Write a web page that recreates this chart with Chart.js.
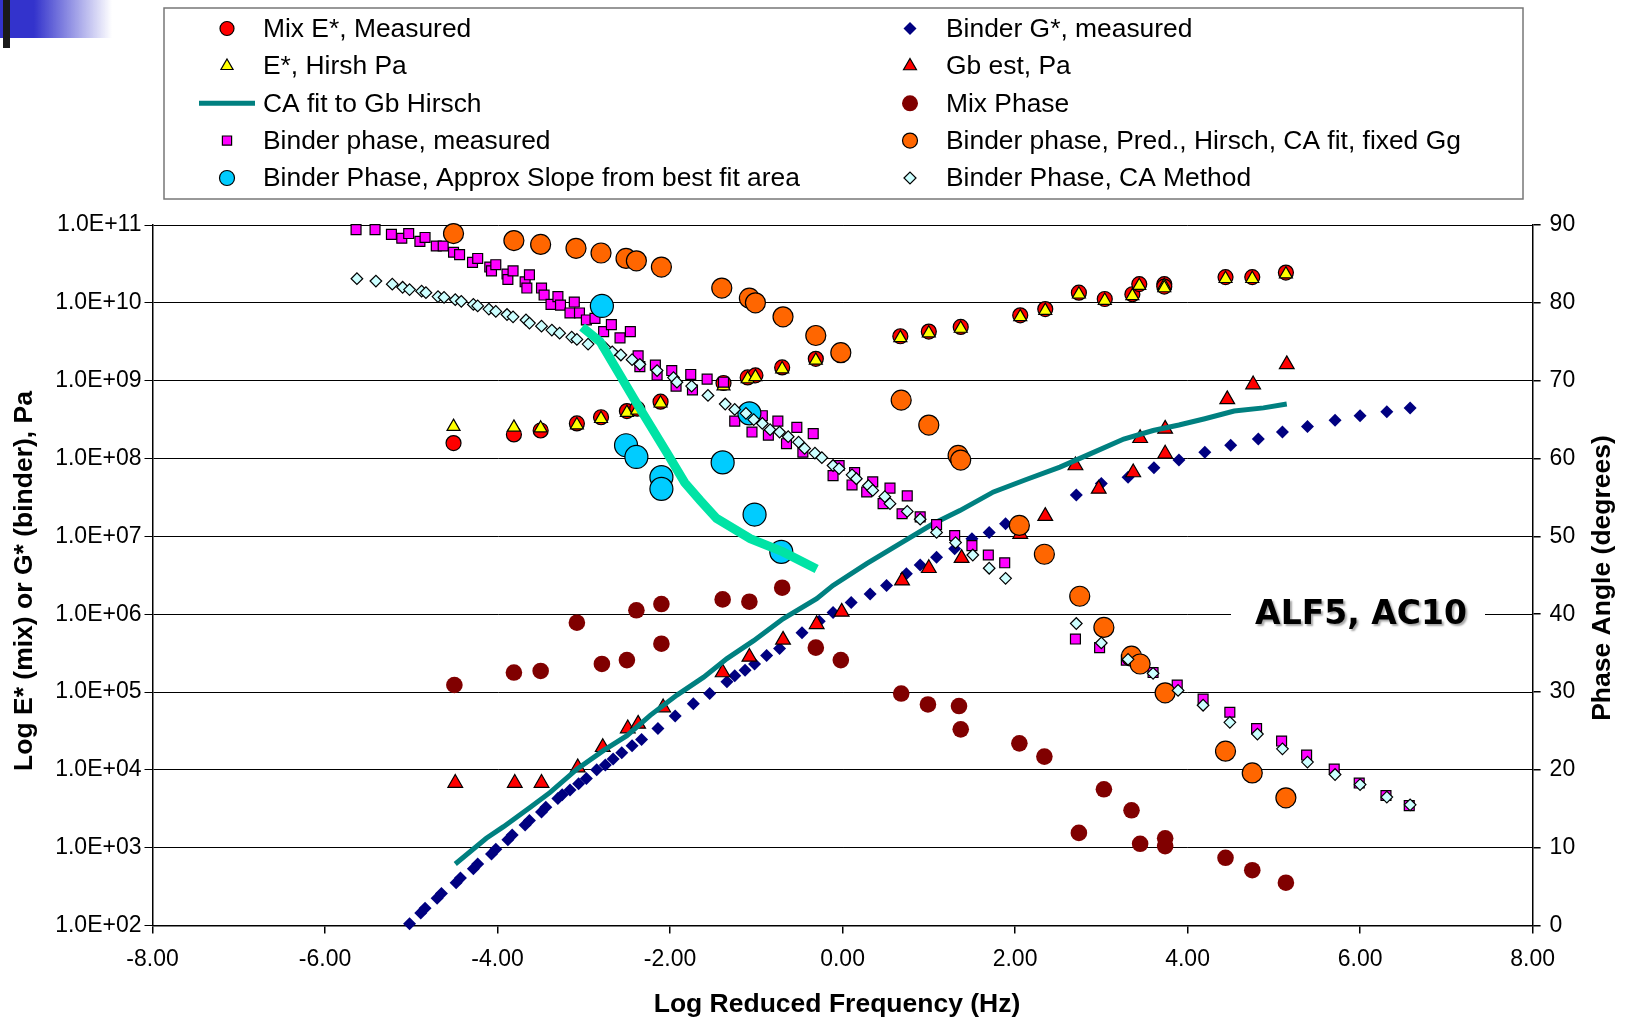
<!DOCTYPE html>
<html>
<head>
<meta charset="utf-8">
<title>ALF5, AC10</title>
<script src="https://cdn.jsdelivr.net/npm/chart.js@4.4.1/dist/chart.umd.min.js"></script>
<style>
  html, body { margin: 0; padding: 0; background: #fff; }
  #wrap { position: relative; width: 1627px; height: 1020px; }
  #chart { position: absolute; left: 0; top: 0; }
  .corner { position: absolute; left: 0; top: 0; width: 112px; height: 38px;
    background: linear-gradient(to right, #3333cc 0, #3333cc 34px, rgba(51, 51, 204, 0) 112px); }
  .bar { position: absolute; left: 3px; top: 0; width: 7px; height: 48px; background: #1a1a1a; }
</style>
</head>
<body>
<div id="wrap">
  <canvas id="chart" width="1627" height="1020"></canvas>
  <div class="corner"></div>
  <div class="bar"></div>
</div>
<script>
// ---- values ----
// x = log reduced frequency (Hz); moduli in Pa (left log axis), phases in degrees (right axis)
const decadeTicks = [1e2, 1e3, 1e4, 1e5, 1e6, 1e7, 1e8, 1e9, 1e10, 1e11]

const mixEX = [-4.51, -3.81, -3.50, -3.08, -2.80, -2.50, -2.38, -2.11, -1.38, -1.10, -1.01, -0.70, -0.31, 0.67, 1.00, 1.37, 2.06, 2.35, 2.74, 3.04, 3.36, 3.44, 3.73, 3.73, 4.44, 4.75, 5.14]
const mixEPa = [1.58e8, 2.04e8, 2.29e8, 2.82e8, 3.39e8, 4.07e8, 4.37e8, 5.37e8, 9.33e8, 1.10e9, 1.17e9, 1.48e9, 1.91e9, 3.72e9, 4.27e9, 4.90e9, 6.92e9, 8.32e9, 1.35e10, 1.12e10, 1.29e10, 1.74e10, 1.74e10, 1.62e10, 2.14e10, 2.14e10, 2.45e10]
const hirschEPa = [2.57e8, 2.51e8, 2.45e8, 2.69e8, 3.24e8, 3.89e8, 4.17e8, 5.13e8, 8.51e8, 1.05e9, 1.12e9, 1.41e9, 1.82e9, 3.55e9, 4.07e9, 4.68e9, 6.61e9, 7.94e9, 1.29e10, 1.07e10, 1.23e10, 1.66e10, 1.66e10, 1.55e10, 2.04e10, 2.04e10, 2.34e10]

const gbEstX = [-4.49, -3.80, -3.49, -3.07, -2.78, -2.49, -2.37, -2.08, -1.39, -1.08, -0.69, -0.30, -0.01, 0.69, 1.00, 1.38, 2.06, 2.35, 2.70, 2.97, 3.37, 3.45, 3.74, 3.74, 4.46, 4.76, 5.15]
const gbEstPa = [6.76e3, 6.76e3, 6.76e3, 1.07e4, 1.95e4, 3.39e4, 3.89e4, 6.31e4, 1.78e5, 2.82e5, 4.68e5, 7.41e5, 1.07e6, 2.69e6, 3.89e6, 5.25e6, 1.07e7, 1.82e7, 8.13e7, 4.07e7, 6.61e7, 1.82e8, 1.15e8, 2.40e8, 5.75e8, 8.91e8, 1.62e9]

const binderGX = [-5.02, -4.89, -4.84, -4.70, -4.65, -4.48, -4.43, -4.28, -4.23, -4.07, -4.02, -3.88, -3.83, -3.68, -3.63, -3.49, -3.44, -3.30, -3.25, -3.16, -3.06, -2.97, -2.85, -2.75, -2.66, -2.56, -2.44, -2.33, -2.14, -1.94, -1.73, -1.54, -1.34, -1.25, -1.13, -1.02, -0.88, -0.73, -0.47, -0.27, -0.11, 0.10, 0.32, 0.51, 0.74, 0.90, 1.09, 1.30, 1.50, 1.70, 1.89, 2.71, 3.00, 3.31, 3.61, 3.90, 4.20, 4.50, 4.82, 5.10, 5.39, 5.71, 6.00, 6.31, 6.58]
const binderGPa = [105, 145, 166, 224, 257, 355, 407, 537, 617, 832, 955, 1.26e3, 1.45e3, 1.95e3, 2.24e3, 2.88e3, 3.31e3, 4.27e3, 4.79e3, 5.50e3, 6.61e3, 7.76e3, 1.00e4, 1.15e4, 1.38e4, 1.66e4, 2.04e4, 2.45e4, 3.39e4, 4.90e4, 7.08e4, 9.55e4, 1.35e5, 1.62e5, 1.91e5, 2.29e5, 2.95e5, 3.63e5, 5.75e5, 8.13e5, 1.05e6, 1.41e6, 1.82e6, 2.34e6, 3.31e6, 4.27e6, 5.37e6, 6.92e6, 9.33e6, 1.12e7, 1.45e7, 3.39e7, 4.79e7, 5.75e7, 7.59e7, 9.55e7, 1.20e8, 1.48e8, 1.78e8, 2.19e8, 2.57e8, 3.09e8, 3.55e8, 3.98e8, 4.47e8]

const caFitX = [-4.49, -4.13, -3.93, -3.62, -3.39, -3.08, -2.77, -2.50, -2.23, -1.92, -1.61, -1.34, -1.03, -0.69, -0.30, -0.11, 0.28, 0.67, 1.05, 1.36, 1.75, 2.13, 2.52, 2.91, 3.26, 3.60, 3.90, 4.20, 4.54, 4.88, 5.15]
const caFitPa = [6.17e2, 1.32e3, 1.86e3, 3.31e3, 5.13e3, 1.02e4, 1.78e4, 2.75e4, 5.01e4, 9.12e4, 1.55e5, 2.69e5, 4.57e5, 8.71e5, 1.58e6, 2.34e6, 4.47e6, 8.13e6, 1.45e7, 2.14e7, 3.72e7, 5.37e7, 7.76e7, 1.20e8, 1.78e8, 2.29e8, 2.69e8, 3.24e8, 4.07e8, 4.47e8, 5.01e8]

const mixPhaseX = [-4.50, -3.81, -3.50, -3.08, -2.79, -2.50, -2.39, -2.10, -2.10, -1.39, -1.08, -0.70, -0.31, -0.02, 0.68, 0.99, 1.35, 1.37, 2.05, 2.34, 2.74, 3.03, 3.35, 3.45, 3.74, 3.74, 4.44, 4.75, 5.14]
const mixPhaseDeg = [30.9, 32.5, 32.7, 38.9, 33.6, 34.1, 40.5, 41.3, 36.2, 41.9, 41.6, 43.4, 35.7, 34.1, 29.8, 28.4, 28.2, 25.2, 23.4, 21.7, 11.9, 17.5, 14.8, 10.5, 11.2, 10.2, 8.7, 7.1, 5.5]

const binderPhaseX = [-5.64, -5.42, -5.23, -5.11, -5.03, -4.90, -4.84, -4.71, -4.63, -4.51, -4.44, -4.29, -4.23, -4.09, -4.07, -4.02, -3.89, -3.88, -3.82, -3.68, -3.66, -3.63, -3.49, -3.46, -3.38, -3.30, -3.27, -3.16, -3.11, -3.05, -2.97, -2.87, -2.77, -2.68, -2.58, -2.46, -2.37, -2.35, -2.17, -2.15, -1.98, -1.93, -1.76, -1.74, -1.57, -1.38, -1.25, -1.05, -0.93, -0.86, -0.75, -0.65, -0.53, -0.46, -0.34, -0.11, -0.04, 0.11, 0.14, 0.28, 0.35, 0.47, 0.55, 0.69, 0.75, 0.90, 1.09, 1.30, 1.50, 1.69, 1.88, 2.70, 2.98, 3.29, 3.60, 3.88, 4.18, 4.49, 4.80, 5.09, 5.38, 5.70, 5.99, 6.30, 6.57]
const binderPhaseDeg = [89.4, 89.4, 88.8, 88.3, 88.9, 87.9, 88.4, 87.3, 87.3, 86.5, 86.2, 85.2, 85.7, 84.6, 84.1, 84.9, 83.7, 83.0, 84.1, 82.7, 81.9, 83.6, 81.9, 81.0, 79.8, 80.8, 79.7, 78.7, 80.1, 78.7, 77.8, 78.0, 76.3, 77.2, 75.5, 76.3, 73.2, 71.8, 72.0, 70.7, 71.3, 69.3, 70.8, 68.8, 70.2, 69.8, 64.8, 63.4, 65.5, 63.0, 64.8, 61.9, 64.0, 60.8, 63.2, 57.8, 59.1, 56.6, 58.2, 55.7, 57.0, 54.2, 56.2, 52.9, 55.2, 52.5, 51.5, 50.1, 48.8, 47.6, 46.6, 36.8, 35.7, 34.1, 32.5, 30.9, 29.1, 27.4, 25.3, 23.7, 21.9, 20.1, 18.3, 16.7, 15.4]

const predPhaseX = [-4.51, -3.81, -3.50, -3.09, -2.80, -2.51, -2.39, -2.10, -1.40, -1.08, -1.01, -0.69, -0.31, -0.02, 0.68, 1.00, 1.34, 1.37, 2.05, 2.34, 2.75, 3.03, 3.35, 3.45, 3.74, 4.44, 4.75, 5.14]
const predPhaseDeg = [88.9, 88.0, 87.5, 87.0, 86.4, 85.7, 85.4, 84.6, 81.9, 80.6, 80.0, 78.2, 75.8, 73.6, 67.5, 64.3, 60.4, 59.8, 51.4, 47.7, 42.3, 38.3, 34.6, 33.6, 29.9, 22.4, 19.6, 16.4]

const slopePhaseX = [-2.79, -2.51, -2.39, -2.10, -2.10, -1.39, -1.08, -1.02, -0.71]
const slopePhaseDeg = [79.6, 61.7, 60.2, 57.6, 56.1, 59.5, 65.8, 52.8, 48.0]

const caPhaseX = [-5.63, -5.41, -5.22, -5.10, -5.02, -4.88, -4.83, -4.69, -4.62, -4.49, -4.42, -4.28, -4.23, -4.10, -4.02, -3.89, -3.82, -3.67, -3.63, -3.49, -3.37, -3.28, -3.14, -3.08, -2.95, -2.75, -2.67, -2.57, -2.44, -2.35, -2.15, -1.96, -1.92, -1.75, -1.56, -1.36, -1.25, -1.12, -1.03, -0.93, -0.84, -0.73, -0.63, -0.51, -0.44, -0.32, -0.24, -0.11, -0.04, 0.11, 0.16, 0.30, 0.35, 0.49, 0.55, 0.75, 0.90, 1.09, 1.31, 1.51, 1.70, 1.89, 2.71, 3.00, 3.31, 3.60, 3.89, 4.18, 4.49, 4.81, 5.10, 5.39, 5.71, 6.00, 6.31, 6.58]
const caPhaseDeg = [83.1, 82.8, 82.4, 82.0, 81.7, 81.5, 81.3, 80.8, 80.7, 80.4, 80.2, 79.8, 79.6, 79.2, 78.9, 78.5, 78.2, 77.8, 77.4, 77.0, 76.5, 76.1, 75.6, 75.3, 74.7, 74.2, 73.7, 73.3, 72.7, 72.1, 71.3, 70.4, 69.8, 69.3, 68.1, 67.0, 66.3, 65.8, 65.0, 64.5, 63.7, 63.4, 62.8, 62.1, 61.3, 60.7, 60.1, 59.1, 58.7, 57.9, 57.4, 56.5, 55.9, 55.1, 54.2, 53.2, 52.2, 50.5, 49.2, 47.6, 45.9, 44.6, 38.8, 36.3, 34.2, 32.4, 30.2, 28.3, 26.1, 24.6, 22.7, 21.0, 19.4, 18.1, 16.5, 15.5]

// unlabelled phase trend line through the slope-method points
const slopeLineX = [-3.02, -2.81, -2.42, -2.04, -1.83, -1.65, -1.46, -1.07, -0.69, -0.30]
const slopeLineDeg = [76.9, 75.0, 67.7, 60.8, 56.9, 54.6, 52.3, 49.7, 48.0, 45.8]

// legend layout, column by column as in the reference
const legendCol1 = ['Mix E*, Measured', 'E*, Hirsh Pa', 'CA fit to Gb Hirsch', 'Binder phase, measured', 'Binder Phase, Approx Slope from best fit area']
const legendCol2 = ['Binder G*, measured', 'Gb est, Pa', 'Mix Phase', 'Binder phase, Pred., Hirsch, CA fit, fixed Gg', 'Binder Phase, CA Method']

// ---- chart ----
const FONT = '"Liberation Sans", Arial, Helvetica, sans-serif'
Chart.defaults.font.family = FONT
Chart.defaults.color = '#000'

const pts = (xs, ys) => xs.map((x, i) => ({ x, y: ys[i] }))
const sci = (v) => '1.0E+' + String(Math.round(Math.log10(v))).padStart(2, '0')

function marker(label, data, axis, style, radius, fill, stroke, order, legendRadius) {
  return {
    label, data, yAxisID: axis, order, clip: false,
    pointStyle: style, pointRadius: radius, pointHoverRadius: radius,
    pointBackgroundColor: fill, pointBorderColor: stroke || fill,
    pointBorderWidth: stroke ? 1.2 : 0, legendRadius,
  }
}
function curve(label, data, axis, color, width, order) {
  return {
    label, data, yAxisID: axis, order, clip: false, showLine: true,
    borderColor: color, borderWidth: width, pointRadius: 0, pointHoverRadius: 0,
  }
}

const datasets = [
  marker('Mix E*, Measured', pts(mixEX, mixEPa), 'y', 'circle', 7.5, '#ff0000', '#000', 11, 7),
  marker('Binder G*, measured', pts(binderGX, binderGPa), 'y', 'rectRot', 6.5, '#000080', null, 10, 6.5),
  marker('E*, Hirsh Pa', pts(mixEX, hirschEPa), 'y', 'triangle', 7.5, '#ffff00', '#000', 9, 7),
  marker('Gb est, Pa', pts(gbEstX, gbEstPa), 'y', 'triangle', 8.5, '#ff0000', '#000', 8, 7.5),
  curve('CA fit to Gb Hirsch', pts(caFitX, caFitPa), 'y', '#008080', 5, 7),
  marker('Mix Phase', pts(mixPhaseX, mixPhaseDeg), 'y2', 'circle', 8.3, '#800000', null, 6, 8),
  marker('Binder phase, measured', pts(binderPhaseX, binderPhaseDeg), 'y2', 'rect', 7, '#ff00ff', '#000', 5, 6.5),
  marker('Binder phase, Pred., Hirsch, CA fit, fixed Gg', pts(predPhaseX, predPhaseDeg), 'y2', 'circle', 10, '#ff6600', '#000', 4, 7.5),
  marker('Binder Phase, Approx Slope from best fit area', pts(slopePhaseX, slopePhaseDeg), 'y2', 'circle', 11.5, '#00ccff', '#000', 3, 7.5),
  marker('Binder Phase, CA Method', pts(caPhaseX, caPhaseDeg), 'y2', 'rectRot', 5.8, '#ccffff', '#000', 2, 6),
  curve('slope trend', pts(slopeLineX, slopeLineDeg), 'y2', '#00e3a5', 9, 1),
]

function rotatedText(c, text, x, y, font) {
  c.save()
  c.translate(x, y)
  c.rotate(-Math.PI / 2)
  c.font = font
  c.fillStyle = '#000'
  c.textAlign = 'center'
  c.textBaseline = 'middle'
  c.fillText(text, 0, 0)
  c.restore()
}

// legend box, axis titles and the sample label are drawn on top
const decor = {
  id: 'decor',
  afterDraw(chart) {
    const c = chart.ctx
    const byLabel = (l) => chart.data.datasets.find((d) => d.label === l)

    // legend
    c.save()
    c.fillStyle = '#fff'
    c.fillRect(164, 8, 1359, 191)
    c.strokeStyle = '#777'
    c.lineWidth = 1.5
    c.strokeRect(164, 8, 1359, 191)
    c.font = '26.4px ' + FONT
    c.textBaseline = 'middle'
    const rowY = [28.5, 66, 103.3, 140.6, 178]
    ;[[legendCol1, 227], [legendCol2, 910]].forEach(([labels, mx]) => {
      labels.forEach((label, i) => {
        const ds = byLabel(label)
        const y = rowY[i]
        if (ds.showLine) {
          c.strokeStyle = ds.borderColor
          c.lineWidth = ds.borderWidth
          c.beginPath(); c.moveTo(mx - 28, y); c.lineTo(mx + 28, y); c.stroke()
        } else {
          c.fillStyle = ds.pointBackgroundColor
          c.strokeStyle = ds.pointBorderColor
          c.lineWidth = ds.pointBorderWidth
          Chart.helpers.drawPoint(c, { pointStyle: ds.pointStyle, radius: ds.legendRadius, rotation: 0, borderWidth: ds.pointBorderWidth }, mx, y)
        }
        c.fillStyle = '#000'
        c.textAlign = 'left'
        c.fillText(label, mx + 36, y + 1)
      })
    })
    c.restore()

    // axis titles; both vertical ones read bottom-to-top
    const titleFont = 'bold 26.5px ' + FONT
    rotatedText(c, 'Log E* (mix) or G* (binder), Pa', 25, 581, titleFont)
    rotatedText(c, 'Phase Angle (degrees)', 1603, 578, titleFont)
    c.save()
    c.font = titleFont
    c.fillStyle = '#000'
    c.textAlign = 'center'
    c.textBaseline = 'middle'
    c.fillText('Log Reduced Frequency (Hz)', 837, 1005)
    c.restore()

    // sample id sits on the 40 degree gridline
    const y40 = chart.scales.y2.getPixelForValue(40)
    c.save()
    c.fillStyle = '#fff'
    c.fillRect(1231, y40 - 22, 254, 44)
    c.font = 'bold 33px "DejaVu Sans", Verdana, sans-serif'
    c.textAlign = 'center'
    c.textBaseline = 'middle'
    c.shadowColor = 'rgba(0,0,0,0.35)'
    c.shadowOffsetX = 2
    c.shadowOffsetY = 2
    c.shadowBlur = 2
    c.fillStyle = '#000'
    c.fillText('ALF5, AC10', 1361, y40 + 1)
    c.restore()
  },
}

new Chart(document.getElementById('chart'), {
  type: 'scatter',
  data: { datasets },
  plugins: [decor],
  options: {
    responsive: false,
    animation: false,
    devicePixelRatio: 1,
    layout: { padding: { top: 225, left: 0, right: 0, bottom: 0 } },
    plugins: { legend: { display: false }, tooltip: { enabled: false } },
    scales: {
      x: {
        type: 'linear', min: -8, max: 8,
        ticks: { stepSize: 2, callback: (v) => v.toFixed(2), font: { size: 23 }, padding: 12, maxRotation: 0, autoSkip: false },
        grid: { drawOnChartArea: false, color: '#000', tickLength: 8, lineWidth: 1.5 },
        border: { color: '#000', width: 1.5 },
        afterFit: (s) => { s.height = 94.5 },
      },
      y: {
        type: 'logarithmic', position: 'left', min: 1e2, max: 1e11,
        afterBuildTicks: (s) => { s.ticks = decadeTicks.map((value) => ({ value })) },
        ticks: { callback: (v) => sci(v), font: { size: 23 }, padding: 3, autoSkip: false },
        grid: { color: '#000', lineWidth: 1, tickLength: 8 },
        border: { color: '#000', width: 1.5 },
        afterFit: (s) => { s.width = 152.5 },
      },
      y2: {
        type: 'linear', position: 'right', min: 0, max: 90,
        ticks: { stepSize: 10, font: { size: 23 }, padding: 9 },
        grid: { drawOnChartArea: false, color: '#000', tickLength: 8, lineWidth: 1.5 },
        border: { color: '#000', width: 1.5 },
        afterFit: (s) => { s.width = 94.4 },
      },
    },
  },
})
</script>
</body>
</html>
